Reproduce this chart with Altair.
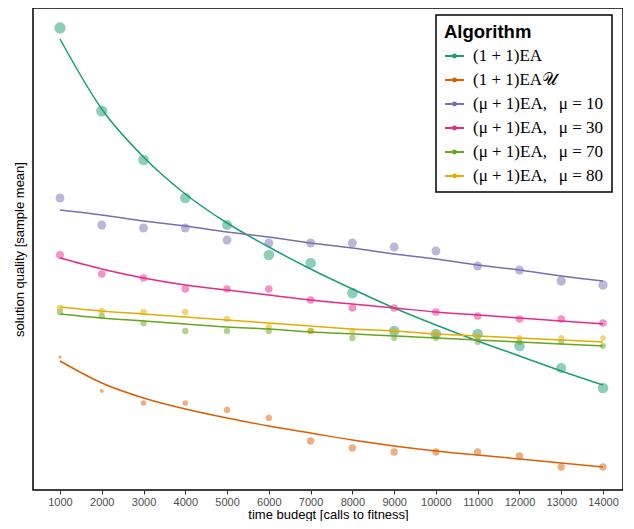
import altair as alt
import pandas as pd

# ---------------- data ----------------
budget = [1000, 2000, 3000, 4000, 5000, 6000, 7000, 8000, 9000, 10000, 11000, 12000, 13000, 14000]

algorithms = [
    "(1 + 1)EA",
    "(1 + 1)EA\U0001D4B0",
    "(\u03bc + 1)EA,\u2002\u2009\u03bc = 10",
    "(\u03bc + 1)EA,\u2002\u2009\u03bc = 30",
    "(\u03bc + 1)EA,\u2002\u2009\u03bc = 70",
    "(\u03bc + 1)EA,\u2002\u2009\u03bc = 80",
]
palette = ["#1b9e77", "#d95f02", "#7570b3", "#e7298a", "#66a61e", "#e6ab02"]

# sample means (y axis is unlabelled in the reference, arbitrary units)
mean_ea = [462, 379, 330, 292, 265, 235, 227, 197, 159, 156, 156, 144, 122, 102]
mean_eau = [133, 99, 87, 87, 80, 72, 49, 42, 38, 38, 38, 34, 23, 23]
mean_mu10 = [292, 265, 262, 262, 250, 247, 247, 247, 243, 239, 224, 220, 209, 205]
mean_mu30 = [235, 216, 212, 201, 201, 201, 190, 182, 182, 178, 174, 171, 171, 167]
mean_mu70 = [178, 174, 167, 159, 159, 159, 159, 152, 152, 152, 148, 148, 148, 144]
mean_mu80 = [182, 179, 178, 178, 171, 163, 159, 159, 159, 157, 154, 152, 152, 152]

# fitted curves at each budget
fit_ea = [451, 381, 333, 296, 267, 243, 221, 201, 182, 165, 149, 134, 119, 105]
fit_eau = [129, 107, 92, 81, 72, 64, 57, 50, 44, 39, 35, 31, 27, 23]
fit_mu10 = [280, 275, 269, 264, 258, 253, 247, 242, 236, 231, 225, 220, 214, 209]
fit_mu30 = [232, 221, 212, 205, 200, 195, 190, 186, 182, 178, 175, 172, 169, 166]
fit_mu70 = [176, 172, 169, 166, 163, 161, 158, 156, 154, 152, 150, 148, 146, 144]
fit_mu80 = [183, 179, 176, 173, 170, 167, 164, 161, 159, 156, 154, 152, 150, 148]

# spread of the samples (drives the point size)
sd_ea = [42, 40, 36, 36, 32, 36, 36, 36, 36, 36, 36, 36, 32, 36]
sd_eau = [3.5, 5.5, 10, 10, 13, 13, 17, 17, 17, 17, 17, 17, 17, 17]
sd_mu10 = [25, 25, 25, 25, 25, 25, 25, 25, 25, 25, 25, 25, 28, 28]
sd_mu30 = [20, 18.5, 18.5, 18.5, 18.5, 18.5, 18.5, 18.5, 18.5, 18.5, 18.5, 18.5, 18.5, 18.5]
sd_mu70 = [13, 13, 13, 13, 13, 13, 13, 13, 12, 12, 12, 12, 12, 11]
sd_mu80 = [14, 14, 14, 14, 13, 13, 13, 12, 12, 12, 11, 11, 11, 10]

means = [mean_ea, mean_eau, mean_mu10, mean_mu30, mean_mu70, mean_mu80]
fits = [fit_ea, fit_eau, fit_mu10, fit_mu30, fit_mu70, fit_mu80]
sds = [sd_ea, sd_eau, sd_mu10, sd_mu30, sd_mu70, sd_mu80]

rows = []
for alg, m, f, s in zip(algorithms, means, fits, sds):
    for b, mv, fv, sv in zip(budget, m, f, s):
        rows.append({"algorithm": alg, "alg_fill": alg, "budget": b, "mean": mv, "fit": fv, "sd": sv})
df = pd.DataFrame(rows)

FONT = "Liberation Sans"

x_enc = alt.X(
    "budget:Q",
    scale=alt.Scale(domain=[354, 14479], nice=False, zero=False),
    axis=alt.Axis(
        title="time budegt [calls to fitness]",
        values=budget,
        format="d",
        grid=False,
        domain=False,
        ticks=True,
        tickSize=4,
        tickColor="#333333",
        tickWidth=1,
        labelColor="#4d4d4d",
        labelFont=FONT,
        labelFontSize=11,
        labelPadding=2,
        titleFont=FONT,
        titleFontSize=13,
        titleFontWeight="normal",
        titleColor="black",
        titlePadding=1,
    ),
)

y_scale = alt.Scale(domain=[0, 482], nice=False, zero=False)
y_axis = alt.Axis(
    title="solution quality [sample mean]",
    labels=False,
    ticks=False,
    grid=False,
    domain=False,
    titleFont=FONT,
    titleFontSize=13,
    titleFontWeight="normal",
    titleColor="black",
    titlePadding=6.5,
)

legend_symbol = "M-1,0H1M-0.15,0A0.15,0.15,0,1,1,0.15,0A0.15,0.15,0,1,1,-0.15,0"

# fill scale: same mapping as the stroke scale, listed in reverse so that the
# two scales are not merged into one (hidden) legend
points = alt.Chart(df).mark_circle(opacity=0.5, strokeWidth=0).encode(
    x=x_enc,
    y=alt.Y("mean:Q", scale=y_scale, axis=y_axis),
    fill=alt.Fill(
        "alg_fill:N",
        scale=alt.Scale(domain=algorithms[::-1], range=palette[::-1]),
        legend=None,
    ),
    size=alt.Size("sd:Q", scale=alt.Scale(domain=[0, 40], range=[0, 125.7], zero=True), legend=None),
)

lines = alt.Chart(df).mark_line(strokeWidth=1.5, interpolate="monotone").encode(
    x=x_enc,
    y=alt.Y("fit:Q", scale=y_scale, axis=y_axis),
    stroke=alt.Stroke(
        "algorithm:N",
        scale=alt.Scale(domain=algorithms, range=palette),
        legend=alt.Legend(
            title="Algorithm",
            orient="none",
            legendX=403,
            legendY=7,
            symbolType=legend_symbol,
            symbolSize=361,
            symbolStrokeWidth=2,
            labelOffset=8,
        ),
    ),
    detail="algorithm:N",
)

chart = (
    alt.layer(points, lines)
    .properties(width=590, height=482, padding={"left": 5, "top": 0, "right": 0, "bottom": 0})
    .configure_view(stroke="black", strokeWidth=1.5)
    .configure_legend(
        titleFont=FONT,
        titleFontSize=18.5,
        titleFontWeight="bold",
        titleColor="black",
        titlePadding=4,
        labelFont="Liberation Serif",
        labelFontSize=17,
        labelColor="black",
        strokeColor="black",
        strokeWidth=1.5,
        fillColor="white",
        padding=8,
        rowPadding=5,
        cornerRadius=0,
    )
)

chart.save("out.html", embed_options={"renderer": "svg", "actions": False})
